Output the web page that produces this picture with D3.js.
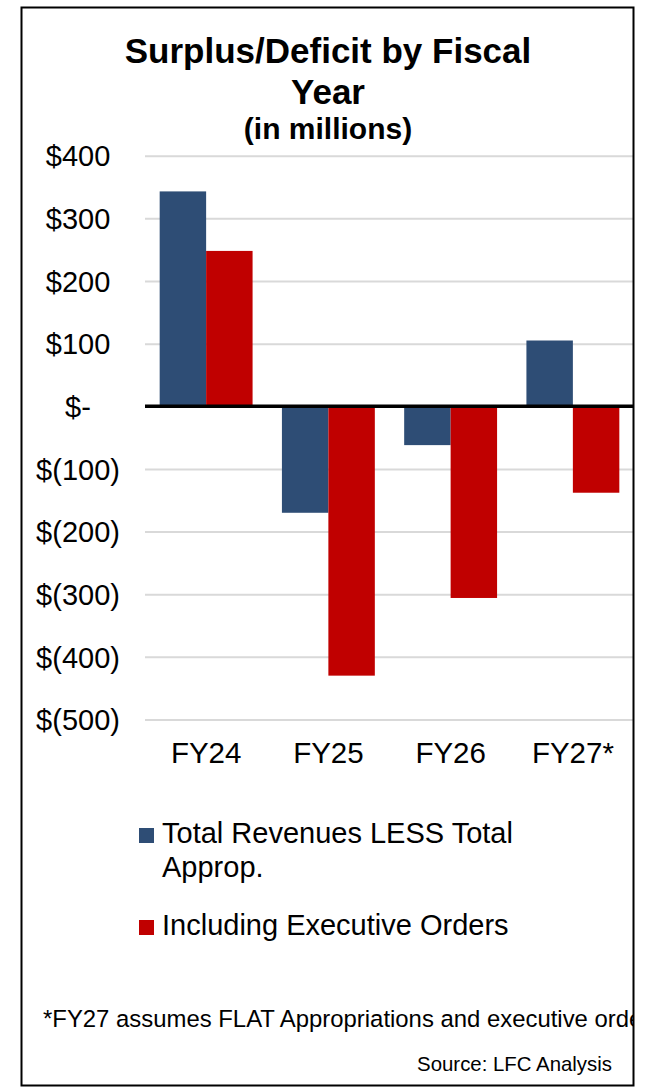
<!DOCTYPE html>
<html>
<head>
<meta charset="utf-8">
<script src="https://cdn.jsdelivr.net/npm/d3@7"></script>
<style>
  html, body { margin: 0; padding: 0; background: #fff; }
  svg { display: block; font-family: "Liberation Sans", Arial, Helvetica, sans-serif; }
</style>
</head>
<body>
<div id="chart"></div>
<script>
// chart values
const years = ['FY24', 'FY25', 'FY26', 'FY27*'];
const seriesNames = ['Total Revenues LESS Total Approp.', 'Including Executive Orders'];
const revenuesLessApprop = [343, -170, -62, 105];
const withExecOrders = [248, -430, -306, -138];
const yTicks = [400, 300, 200, 100, 0, -100, -200, -300, -400, -500];

const colors = ['#2E4D75', '#C00000'];
const width = 645, height = 1087;

const svg = d3.select('#chart').append('svg')
    .attr('width', width)
    .attr('height', height);

// frame, everything inside is clipped to it
const frame = {x: 21.5, y: 7.5, w: 612, h: 1078};
svg.append('clipPath').attr('id', 'frameclip')
  .append('rect')
    .attr('x', frame.x).attr('y', frame.y)
    .attr('width', frame.w).attr('height', frame.h);

const g = svg.append('g').attr('clip-path', 'url(#frameclip)');

// title
const title = g.append('text')
    .attr('text-anchor', 'middle')
    .attr('font-weight', 'bold')
    .attr('fill', '#000');
title.append('tspan').attr('x', 328).attr('y', 63).attr('font-size', 35).text('Surplus/Deficit by Fiscal');
title.append('tspan').attr('x', 328).attr('y', 104).attr('font-size', 35).text('Year');
title.append('tspan').attr('x', 328).attr('y', 139).attr('font-size', 30).text('(in millions)');

// scales
const x = d3.scaleBand()
    .domain(years)
    .range([145, 634])
    .paddingInner(0.24)
    .paddingOuter(0.12);

const x1 = d3.scaleBand()
    .domain(d3.range(seriesNames.length))
    .range([0, x.bandwidth()]);

const y = d3.scaleLinear()
    .domain([-500, 400])
    .range([719.5, 155.7]);

function fmt(v) {
    if (v === 0) return '$-';
    if (v < 0) return '$(' + Math.abs(v) + ')';
    return '$' + v;
}

// gridlines
const yAxis = d3.axisLeft(y)
    .tickValues(yTicks)
    .tickSize(-(634 - 145))
    .tickFormat(fmt);

const axisG = g.append('g')
    .attr('transform', 'translate(145,0)')
    .call(yAxis);
axisG.select('.domain').remove();
axisG.selectAll('.tick line')
    .attr('stroke', '#D9D9D9')
    .attr('stroke-width', 2);
axisG.selectAll('.tick text')
    .attr('x', 78 - 145)
    .attr('dy', '0.35em')
    .attr('text-anchor', 'middle')
    .attr('font-size', 29)
    .attr('fill', '#000');

// bars
const rows = years.map((yr, i) => ({year: yr, values: [revenuesLessApprop[i], withExecOrders[i]]}));

const groups = g.append('g').selectAll('g')
    .data(rows)
    .join('g')
    .attr('transform', d => 'translate(' + x(d.year) + ',0)');

groups.selectAll('rect')
    .data(d => d.values.map((v, k) => ({v: v, k: k})))
    .join('rect')
    .attr('x', d => x1(d.k))
    .attr('width', x1.bandwidth())
    .attr('y', d => y(Math.max(0, d.v)))
    .attr('height', d => Math.abs(y(d.v) - y(0)))
    .attr('fill', d => colors[d.k]);

// zero line
g.append('line')
    .attr('x1', 145).attr('x2', 634)
    .attr('y1', y(0)).attr('y2', y(0))
    .attr('stroke', '#000')
    .attr('stroke-width', 3.5);

// category labels
const xAxis = d3.axisBottom(x).tickSize(0).tickPadding(0);
const xg = g.append('g')
    .attr('transform', 'translate(0,' + 762.5 + ')')
    .call(xAxis);
xg.select('.domain').remove();
xg.selectAll('.tick text')
    .attr('dy', 0)
    .attr('y', 0)
    .attr('font-size', 29.5)
    .attr('fill', '#000');

// legend
const legendItems = [
    {lines: ['Total Revenues LESS Total', 'Approp.'], y: 843},
    {lines: ['Including Executive Orders'], y: 935}
];
const leg = g.append('g');
legendItems.forEach((item, i) => {
    leg.append('rect')
        .attr('x', 139).attr('y', item.y - 15)
        .attr('width', 15).attr('height', 15)
        .attr('fill', colors[i]);
    const t = leg.append('text').attr('font-size', 29).attr('fill', '#000');
    item.lines.forEach((ln, j) => {
        t.append('tspan').attr('x', 162).attr('y', item.y + j * 34).text(ln);
    });
});

// footnote and source
g.append('text')
    .attr('x', 43).attr('y', 1027)
    .attr('font-size', 23.9)
    .attr('fill', '#000')
    .text('*FY27 assumes FLAT Appropriations and executive orders');

g.append('text')
    .attr('x', 612).attr('y', 1070.5)
    .attr('text-anchor', 'end')
    .attr('font-size', 20.4)
    .attr('fill', '#000')
    .text('Source: LFC Analysis');

// border
svg.append('rect')
    .attr('x', frame.x).attr('y', frame.y)
    .attr('width', frame.w).attr('height', frame.h)
    .attr('fill', 'none')
    .attr('stroke', '#000')
    .attr('stroke-width', 2);
</script>
</body>
</html>
